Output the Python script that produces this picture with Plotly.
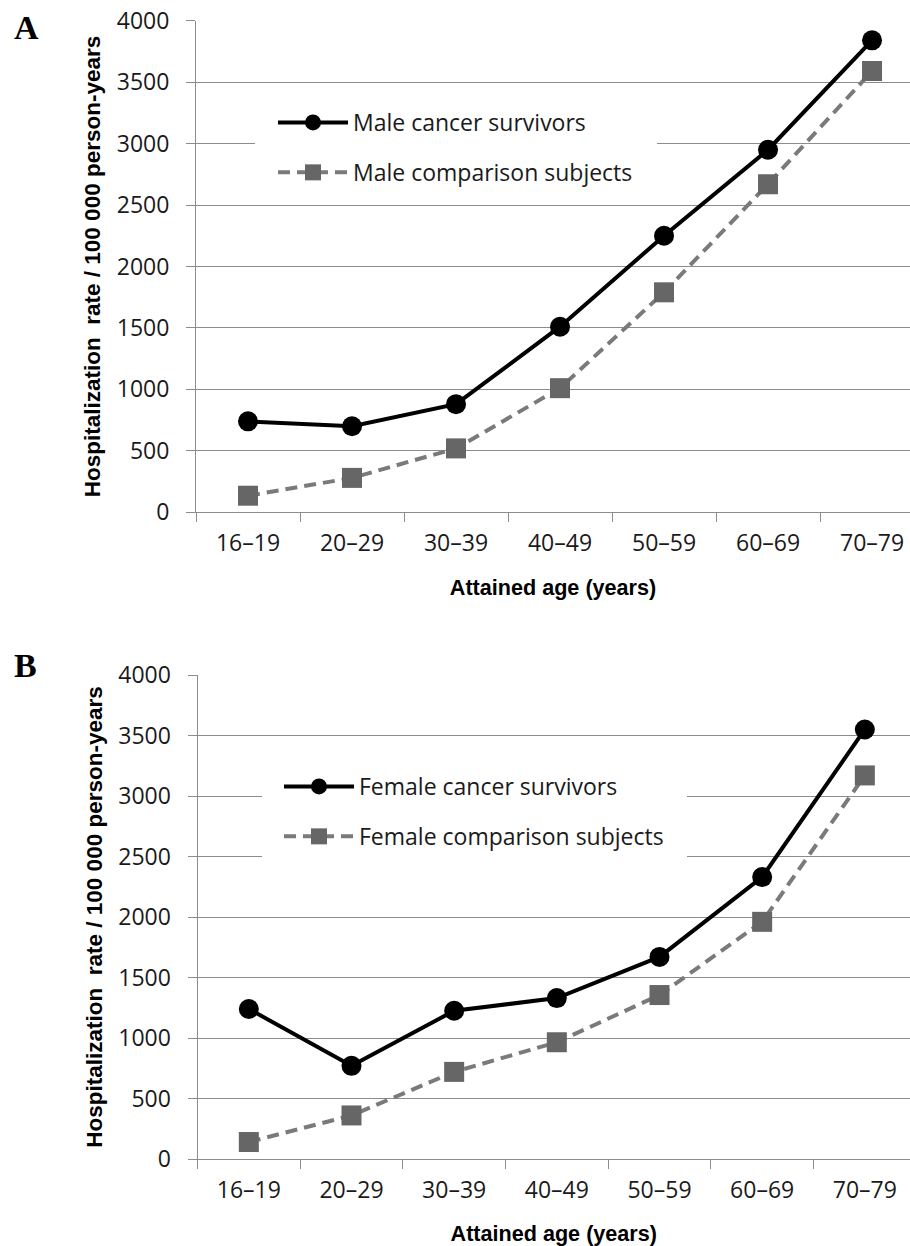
import plotly.graph_objects as go

# Attained age groups and hospitalization rates per 100 000 person-years
age_groups = ["16–19", "20–29", "30–39", "40–49", "50–59", "60–69", "70–79"]

male_survivors = [740, 700, 880, 1510, 2250, 2950, 3840]
male_comparison = [135, 280, 520, 1010, 1790, 2670, 3590]

female_survivors = [1240, 770, 1225, 1330, 1670, 2330, 3550]
female_comparison = [140, 360, 720, 965, 1355, 1960, 3170]

y_ticks = [0, 500, 1000, 1500, 2000, 2500, 3000, 3500, 4000]

W, H = 910, 1246
GRID = "#8c8c8c"
TICK_FONT = dict(family="Open Sans", size=23, color="#1a1a1a")
X_TITLE_FONT = dict(family="Liberation Sans", size=21.6, color="#000000")
Y_TITLE_FONT = dict(family="Liberation Sans", size=22.5, color="#000000")
Y_TITLE = "<b>Hospitalization  rate / 100 000 person-years</b>"
X_TITLE = "<b>Attained age (years)</b>"

BLACK = "#000000"
GREY_MARK = "#666666"
GREY_LINE = "#7a7a7a"


def py(y):
    return 1 - y / H


fig = go.Figure()

panels = [
    # (xaxis, yaxis, legend, survivors, comparison, sex)
    ("x", "y", "legend", male_survivors, male_comparison, "Male"),
    ("x2", "y2", "legend2", female_survivors, female_comparison, "Female"),
]

for xa, ya, lg, surv, comp, sex in panels:
    fig.add_trace(go.Scatter(
        x=age_groups, y=surv, xaxis=xa, yaxis=ya, legend=lg,
        name=f"{sex} cancer survivors", legendgroup=f"{sex}1",
        mode="lines+markers",
        line=dict(color=BLACK, width=4),
        marker=dict(symbol="circle", size=20, color=BLACK),
    ))
    fig.add_trace(go.Scatter(
        x=age_groups, y=comp, xaxis=xa, yaxis=ya, legend=lg,
        name=f"{sex} comparison subjects", legendgroup=f"{sex}2",
        mode="lines+markers",
        line=dict(color=GREY_LINE, width=4, dash="12px,7px"),
        marker=dict(symbol="square", size=20, color=GREY_MARK),
    ))


def x_axis(domain, xmax, anchor):
    return dict(
        domain=domain, anchor=anchor, type="category",
        categoryorder="array", categoryarray=age_groups,
        range=[-0.5, xmax], automargin=False,
        showline=True, linecolor=GRID, linewidth=1,
        ticks="outside", tickson="boundaries", ticklen=9, tickcolor=GRID,
        tickwidth=1, showgrid=False, zeroline=False,
        tickfont=TICK_FONT, ticklabelstandoff=10,
        title=dict(text=X_TITLE, font=X_TITLE_FONT, standoff=22),
    )


def y_axis(domain, anchor):
    return dict(
        domain=domain, anchor=anchor, range=[0, 4000], automargin=False,
        tickmode="array", tickvals=y_ticks,
        showline=True, linecolor=GRID, linewidth=1,
        ticks="outside", ticklen=9, tickcolor=GRID, tickwidth=1,
        showgrid=True, gridcolor=GRID, gridwidth=1, zeroline=False,
        tickfont=TICK_FONT, ticklabelstandoff=12,
        title=dict(text=Y_TITLE, font=Y_TITLE_FONT, standoff=9),
    )


def legend_box(x, y):
    return dict(
        x=x, y=y, xanchor="left", yanchor="top",
        xref="paper", yref="paper",
        bgcolor="rgba(0,0,0,0)", borderwidth=0,
        font=dict(family="Open Sans", size=23, color="#1a1a1a"),
        traceorder="grouped", tracegroupgap=17, itemwidth=70,
    )


fig.update_layout(
    width=W, height=H,
    margin=dict(l=0, r=0, t=0, b=0, autoexpand=False),
    paper_bgcolor="#ffffff", plot_bgcolor="#ffffff",
    xaxis=x_axis([196 / W, 1], 6.365, "y"),
    yaxis=y_axis([py(512.3), py(20.7)], "x"),
    xaxis2=x_axis([197.5 / W, 1], 6.44, "y2"),
    yaxis2=y_axis([py(1159), py(675)], "x2"),
    legend=legend_box(273 / W, py(101)),
    legend2=legend_box(279 / W, py(765)),
    showlegend=True,
)

# White panels behind the legends, masking the gridlines
for x0, x1, y0, y1 in [(255, 657, 97, 198), (262, 687, 762, 880)]:
    fig.add_shape(
        type="rect", xref="paper", yref="paper",
        x0=x0 / W, x1=x1 / W, y0=py(y1), y1=py(y0),
        fillcolor="#ffffff", line=dict(width=0), layer="above",
    )

# Panel letters
for letter, ypix in [("A", 27), ("B", 665)]:
    fig.add_annotation(
        text=f"<b>{letter}</b>", x=12 / W, y=py(ypix),
        xref="paper", yref="paper", xanchor="left", yanchor="middle",
        showarrow=False,
        font=dict(family="Liberation Serif", size=34, color="#000000"),
    )

fig.write_html("out.html")
